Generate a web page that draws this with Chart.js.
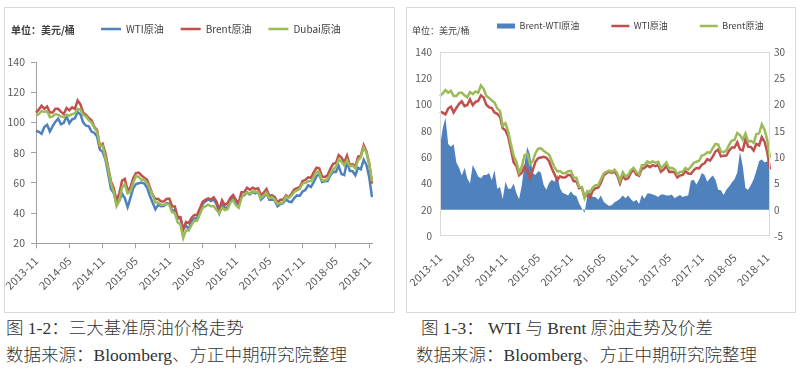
<!DOCTYPE html>
<html>
<head>
<meta charset="utf-8">
<script src="https://cdn.jsdelivr.net/npm/chart.js@4.4.1/dist/chart.umd.min.js"></script>
<style>
body { margin:0; width:797px; height:382px; background:#fff; position:relative; overflow:hidden; font-family:'Noto Sans CJK SC', sans-serif; }
.box { position:absolute; top:7px; height:306px; border:1px solid #d9d9d9; box-sizing:border-box; }
.plot { position:absolute; left:0; top:0; right:0; bottom:0; }
.unit { position:absolute; color:#404040; white-space:nowrap; }
.cap { position:absolute; font-family:'Liberation Serif','Noto Sans CJK SC',serif; font-size:17.5px; font-weight:300; line-height:20px; color:#333; white-space:nowrap; }
</style>
</head>
<body>

<div class="box" style="left:4px;width:391px">
  <div class="plot"><canvas id="chart1"></canvas></div>
  <div class="unit" style="left:6px;top:15px;font-size:10px;line-height:14px;font-weight:bold">单位：美元/桶</div>
</div>
<div class="box" style="left:406px;width:390px">
  <div class="plot"><canvas id="chart2"></canvas></div>
  <div class="unit" style="left:5px;top:17px;font-size:9px;line-height:12px">单位：美元/桶</div>
</div>

<div class="cap" style="left:6px;top:318px">图 1-2：三大基准原油价格走势</div>
<div class="cap" style="left:6px;top:345px">数据来源：Bloomberg、方正中期研究院整理</div>
<div class="cap" style="left:421px;top:318px">图 1-3： WTI 与 Brent 原油走势及价差</div>
<div class="cap" style="left:416px;top:345px">数据来源：Bloomberg、方正中期研究院整理</div>

<script>
// half-month points, 2013-11 .. 2018-11
var dates = [];
for (var k = 0; k < 122; k++) {
  var mm = 10 + Math.floor(k / 2);
  var mo = mm % 12 + 1;
  dates.push((2013 + Math.floor(mm / 12)) + '-' + (mo < 10 ? '0' : '') + mo + (k % 2 ? '-15' : '-01'));
}

var wti = [
  94.6, 93.8, 92.5, 97.0, 98.5, 94.0, 97.5, 100.5, 102.5, 98.8, 99.7, 104.0,
  99.5, 102.0, 102.7, 106.9, 105.4, 99.9, 97.9, 97.4, 94.0, 93.0, 90.7, 82.0,
  80.5, 75.5, 66.0, 56.0, 53.3, 46.3, 48.2, 52.8, 49.8, 44.0, 50.0, 56.4,
  59.2, 59.7, 60.2, 59.5, 56.9, 51.4, 46.9, 42.5, 45.4, 44.6, 44.7, 46.6,
  46.1, 41.7, 41.8, 36.3, 37.0, 29.4, 31.6, 29.4, 34.4, 36.3, 36.8, 40.4,
  45.9, 47.7, 49.0, 48.0, 49.0, 45.9, 40.0, 45.7, 43.2, 43.9, 48.2, 50.4,
  46.7, 45.8, 51.1, 51.9, 53.7, 52.4, 53.9, 53.1, 54.0, 48.9, 50.6, 53.2,
  48.8, 48.9, 48.4, 44.5, 46.0, 46.5, 49.2, 47.6, 47.3, 49.9, 51.7, 51.5,
  54.3, 55.3, 58.4, 57.3, 60.4, 64.3, 65.8, 60.6, 61.0, 61.2, 64.9, 67.4,
  67.3, 71.3, 65.8, 65.1, 73.9, 68.0, 67.7, 65.0, 70.0, 68.9, 75.3, 71.8,
  63.7, 50.6
];
var brent = [
  106.5, 108.5, 111.0, 109.0, 110.5, 106.5, 106.5, 109.0, 109.0, 107.0, 105.5, 109.5,
  108.0, 110.0, 109.0, 114.5, 112.0, 106.5, 105.0, 103.0, 101.5, 97.0, 95.0, 84.0,
  85.8, 79.5, 70.0, 61.0, 56.5, 48.5, 52.9, 61.5, 62.6, 54.7, 57.0, 63.0,
  66.5, 66.8, 64.9, 63.3, 62.0, 57.1, 52.2, 49.2, 49.5, 47.8, 47.7, 49.3,
  49.6, 44.5, 44.4, 37.5, 37.3, 29.0, 34.2, 33.4, 36.8, 38.7, 38.7, 43.1,
  47.4, 48.8, 49.7, 48.9, 50.4, 47.6, 42.1, 48.4, 45.4, 46.6, 50.2, 51.9,
  48.6, 46.9, 53.9, 54.0, 56.8, 55.5, 56.8, 55.8, 56.4, 51.8, 53.5, 55.9,
  51.5, 51.8, 50.6, 47.0, 48.8, 48.9, 51.8, 50.3, 52.8, 55.6, 56.5, 57.2,
  61.3, 61.9, 63.7, 63.3, 66.9, 70.0, 69.6, 64.3, 63.8, 65.0, 69.3, 72.6,
  73.1, 78.4, 76.8, 73.4, 78.0, 71.8, 72.4, 70.8, 77.4, 78.1, 84.9, 80.8,
  72.9, 59.5
];
var dubai = [
  104.5, 105.5, 107.5, 107.0, 107.5, 103.5, 104.0, 105.5, 105.0, 104.0, 103.5, 105.0,
  104.5, 105.5, 106.0, 109.0, 108.5, 105.0, 104.0, 101.5, 100.0, 96.5, 94.0, 84.5,
  84.5, 76.5, 69.0, 59.5, 54.0, 44.5, 48.0, 57.0, 59.0, 53.0, 54.0, 60.0,
  64.5, 64.0, 62.0, 62.0, 60.0, 56.0, 52.0, 47.0, 47.0, 45.5, 45.5, 46.0,
  45.5, 40.5, 40.0, 34.0, 32.5, 23.5, 28.5, 28.5, 32.0, 35.0, 35.0, 39.0,
  43.5, 44.5, 45.5, 44.5, 44.5, 42.0, 40.0, 43.5, 42.0, 42.5, 47.0, 48.5,
  45.0, 43.5, 50.0, 52.5, 53.5, 53.0, 54.5, 54.0, 54.0, 50.0, 51.5, 53.5,
  50.0, 50.5, 49.0, 46.0, 46.5, 47.0, 51.0, 50.0, 51.5, 54.0, 55.0, 56.0,
  59.5, 60.0, 61.0, 61.0, 64.0, 67.5, 67.0, 61.5, 61.5, 62.5, 66.0, 69.0,
  70.5, 75.5, 74.0, 71.5, 75.0, 71.0, 71.5, 69.5, 75.0, 77.0, 83.5, 80.0,
  72.5, 61.0
];
// Brent-WTI spread, right axis
var spread = [
  12.0, 15.5, 17.5, 12.5, 12.0, 12.5, 9.0, 8.0, 6.5, 8.0, 6.0, 5.0,
  8.5, 7.5, 6.3, 6.0, 6.6, 6.6, 7.0, 5.6, 7.5, 4.0, 4.3, 2.0,
  5.3, 4.0, 4.0, 5.0, 3.2, 2.0, 4.7, 8.7, 12.0, 10.5, 7.0, 6.6,
  7.3, 7.1, 4.7, 3.8, 5.1, 5.7, 5.3, 6.7, 4.1, 3.2, 3.0, 2.7,
  3.5, 2.8, 2.6, 1.2, 0.3, -0.6, 2.6, 4.0, 2.4, 2.4, 1.9, 2.7,
  1.5, 1.1, 0.7, 0.9, 1.4, 1.7, 2.1, 2.7, 2.2, 2.7, 2.0, 1.5,
  1.9, 1.1, 2.8, 2.1, 3.1, 3.1, 2.9, 2.7, 2.4, 2.9, 2.9, 2.7,
  2.7, 2.9, 2.2, 2.5, 2.8, 2.4, 2.6, 2.7, 5.5, 5.7, 4.8, 5.7,
  7.0, 6.6, 5.3, 6.0, 6.5, 5.7, 3.8, 3.7, 2.8, 3.8, 4.4, 5.2,
  5.8, 7.1, 11.0, 8.3, 4.1, 3.8, 4.7, 5.8, 7.4, 9.2, 9.6, 9.0,
  9.2, 8.9
];

var FONT = "'Liberation Sans Narrow', 'Noto Sans CJK SC', sans-serif";
var BLUE = '#4F81BD', RED = '#C0504D', GREEN = '#9BBB59';

// put the legend where excel had it (next to the unit label)
var legendPos = {
  id: 'legendPos',
  afterLayout: function(chart, args, opts) {
    var lg = chart.legend;
    var pad = lg.options.labels.padding;
    var w = lg.right - lg.left;
    lg.left = opts.x - pad;
    lg.right = lg.left + w;
    lg.top = opts.y - pad - opts.size / 2;
    lg.bottom = lg.top + pad + opts.size + 10;
  }
};

var plotBorder = {
  id: 'plotBorder',
  afterDatasetsDraw: function(chart, args, opts) {
    if (!opts.color) return;
    var a = chart.chartArea, ctx = chart.ctx;
    ctx.save();
    ctx.strokeStyle = opts.color;
    ctx.lineWidth = 1;
    ctx.strokeRect(a.left + 0.5, a.top + 0.5, a.width - 1, a.height - 1);
    ctx.restore();
  }
};

function tickLabel(v, i) {
  return i % 12 === 0 ? dates[i].slice(0, 7) : '';
}

function lineSet(label, data, color, order, axis) {
  return {
    label: label, data: data, borderColor: color, backgroundColor: color,
    borderWidth: 2.5, pointRadius: 0, pointStyle: 'line', tension: 0,
    fill: false, order: order, yAxisID: axis || 'y'
  };
}

function legendOpts(size, padding, boxW) {
  return {
    display: true, position: 'top', align: 'start', maxHeight: 30,
    labels: {
      usePointStyle: true, pointStyleWidth: boxW, boxHeight: 5, padding: padding,
      color: '#404040', font: { size: size, family: FONT },
      sort: function(a, b) { return a.datasetIndex - b.datasetIndex; }
    }
  };
}

new Chart(document.getElementById('chart1'), {
  type: 'line',
  data: {
    labels: dates,
    datasets: [
      lineSet('WTI原油', wti, BLUE, 2),
      lineSet('Brent原油', brent, RED, 1),
      lineSet('Dubai原油', dubai, GREEN, 0)
    ]
  },
  plugins: [legendPos],
  options: {
    responsive: true, maintainAspectRatio: false, animation: false, events: [],
    devicePixelRatio: 1,
    layout: { padding: { left: 0, right: 22, top: 24, bottom: 20.7 } },
    plugins: {
      legend: legendOpts(10, 17, 20),
      legendPos: { x: 96, y: 21, size: 10 },
      tooltip: { enabled: false }
    },
    scales: {
      x: {
        grid: {
          drawOnChartArea: false, tickLength: 5,
          color: function(c) { return c.index % 12 === 0 ? '#a0a0a0' : 'rgba(0,0,0,0)'; },
          tickColor: function(c) { return c.index % 12 === 0 ? '#a0a0a0' : 'rgba(0,0,0,0)'; }
        },
        border: { color: '#a0a0a0' },
        ticks: {
          autoSkip: false, minRotation: 45, maxRotation: 45, padding: 6,
          color: '#595959', font: { size: 11, family: FONT }, callback: tickLabel
        },
        afterFit: function(s) { s.height = 48; s.paddingLeft = 0; s.paddingRight = 0; }
      },
      y: {
        min: 20, max: 140,
        grid: { drawOnChartArea: false, tickLength: 5, color: '#a0a0a0' },
        border: { color: '#a0a0a0' },
        ticks: { stepSize: 20, padding: 6, color: '#595959', font: { size: 10.5, family: FONT } },
        afterFit: function(s) { s.width = 31; }
      }
    }
  }
});

var area = {
  label: 'Brent-WTI原油', data: spread, yAxisID: 'y1', order: 2,
  backgroundColor: BLUE, borderColor: BLUE, borderWidth: 0, pointRadius: 0,
  pointStyle: 'rect', fill: 'origin', tension: 0
};

new Chart(document.getElementById('chart2'), {
  type: 'line',
  data: {
    labels: dates,
    datasets: [
      area,
      lineSet('WTI原油', wti, RED, 1),
      lineSet('Brent原油', brent, GREEN, 0)
    ]
  },
  plugins: [legendPos, plotBorder],
  options: {
    responsive: true, maintainAspectRatio: false, animation: false, events: [],
    devicePixelRatio: 1,
    layout: { padding: { left: 0, right: 0, top: 14, bottom: 26 } },
    plugins: {
      legend: legendOpts(9, 32, 18),
      legendPos: { x: 90, y: 18, size: 9 },
      plotBorder: { color: '#d9d9d9' },
      tooltip: { enabled: false }
    },
    scales: {
      x: {
        grid: { display: false, drawTicks: false },
        border: { display: false },
        ticks: {
          autoSkip: false, minRotation: 45, maxRotation: 45, padding: 15,
          color: '#595959', font: { size: 11, family: FONT }, callback: tickLabel
        },
        afterFit: function(s) { s.height = 50; s.paddingLeft = 0; s.paddingRight = 0; }
      },
      y: {
        position: 'left', min: 0, max: 140,
        grid: { display: false, drawTicks: false },
        border: { display: false },
        ticks: { stepSize: 20, padding: 8, color: '#595959', font: { size: 10, family: FONT } },
        afterFit: function(s) { s.width = 33; }
      },
      y1: {
        position: 'right', min: -5, max: 30,
        grid: { display: false, drawTicks: false },
        border: { display: false },
        ticks: { stepSize: 5, padding: 4, color: '#595959', font: { size: 10, family: FONT } },
        afterFit: function(s) { s.width = 25; }
      }
    }
  }
});
</script>
</body>
</html>
